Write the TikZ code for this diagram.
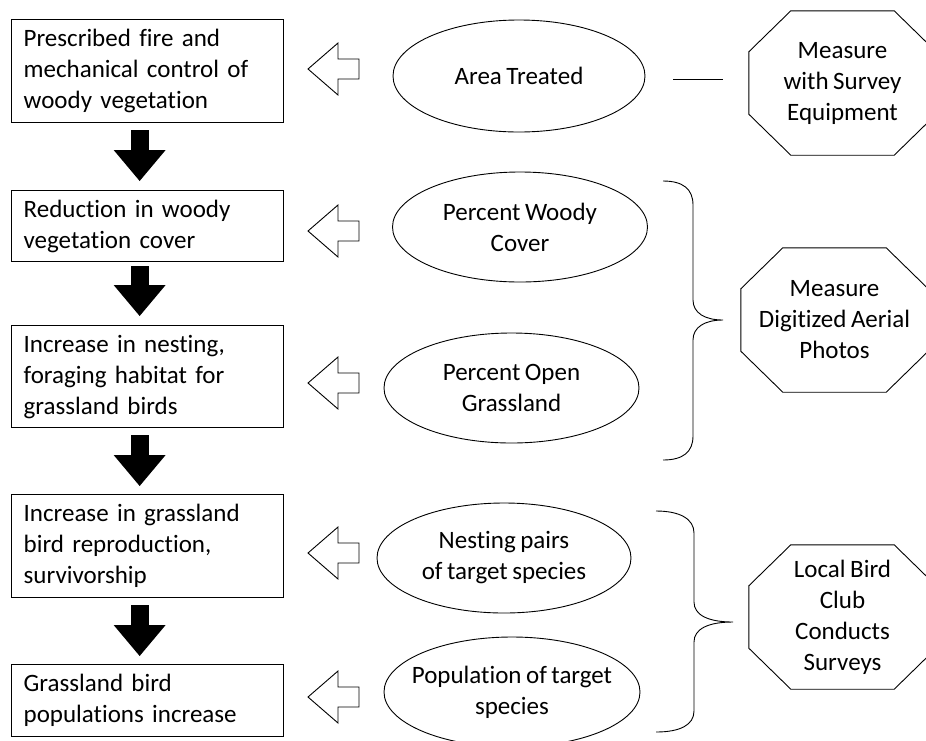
\documentclass[tikz,border=0pt]{standalone}
\usepackage{fontspec}
\setmainfont{Carlito}[Ligatures=NoCommon, WordSpace=0.8]
\usetikzlibrary{arrows.meta}

% chamfered outline drawn around a rectangular node
\newcommand\octagonround[1]{%
  \draw[octline] ([xshift=42pt]#1.north west) -- ([xshift=-42pt]#1.north east)
    -- ([yshift=-41pt]#1.north east) -- ([yshift=41pt]#1.south east)
    -- ([xshift=-42pt]#1.south east) -- ([xshift=42pt]#1.south west)
    -- ([yshift=41pt]#1.south west) -- ([yshift=-41pt]#1.north west) -- cycle;}

\begin{document}
\begin{tikzpicture}[x=1pt,y=-1pt,
  every node/.style={font=\fontsize{25}{31}\selectfont, inner sep=0pt},
  box/.style={draw, line width=1.3pt, anchor=north west, text width=248pt,
    inner xsep=12pt, align=left, minimum width=272pt},
  etext/.style={align=center},
  ellline/.style={line width=0.9pt},
  octbox/.style={minimum width=187pt, minimum height=144pt, align=center},
  octline/.style={line width=0.9pt},
  braceline/.style={line width=0.9pt},
  blockarrow/.style={line width=18pt,
    -{Triangle[length=31pt, width=52pt, line width=0pt]}},
  hollow/.pic={\draw[line width=0.9pt, line join=miter]
    (0,0) -- (30,-26) -- (30,-10) -- (51,-10) -- (51,10) -- (30,10) -- (30,26) -- cycle;}
]
\useasboundingbox (0,0) rectangle (926,740);

% chain of outcomes
\node[box, minimum height=103pt] (b1) at (11,19)
  {Prescribed fire and\\mechanical control of\\woody vegetation};
\node[box, minimum height=71pt] (b2) at (11,190)
  {Reduction in woody\\vegetation cover};
\node[box, minimum height=102pt] (b3) at (11,325)
  {Increase in nesting,\\foraging habitat for\\grassland birds};
\node[box, minimum height=103pt] (b4) at (11,494)
  {Increase in grassland\\bird reproduction,\\survivorship};
\node[box, minimum height=72pt] (b5) at (11,664)
  {Grassland bird\\populations increase};

\draw[blockarrow] ([xshift=-8pt,yshift=-7pt]b1.south) -- ([xshift=-8pt,yshift=9pt]b2.north);
\draw[blockarrow] ([xshift=-8pt,yshift=-4pt]b2.south) -- ([xshift=-8pt,yshift=9pt]b3.north);
\draw[blockarrow] ([xshift=-8pt,yshift=-7pt]b3.south) -- ([xshift=-8pt,yshift=8pt]b4.north);
\draw[blockarrow] ([xshift=-8pt,yshift=-7pt]b4.south) -- ([xshift=-8pt,yshift=8pt]b5.north);

% indicators
\node[etext] (e1) at (519,76) {Area Treated};
\draw[ellline] (e1.center) ellipse [x radius=126, y radius=56];
\node[etext] (e2) at (520,227) {Percent Woody\\Cover};
\draw[ellline] (e2.center) ellipse [x radius=127.5, y radius=55];
\node[etext] (e3) at (511.5,388) {Percent Open\\Grassland};
\draw[ellline] (e3.center) ellipse [x radius=127.5, y radius=55];
\node[etext] (e4) at (504,558) {Nesting pairs\\of target species};
\draw[ellline] (e4.center) ellipse [x radius=127, y radius=55];
\node[etext] (e5) at (512,692) {Population of target\\species};
\draw[ellline] (e5.center) ellipse [x radius=128, y radius=55];

\pic at (308,69) {hollow};
\pic at (308,231) {hollow};
\pic at (308,383) {hollow};
\pic at (308,553) {hollow};
\pic at (308,697) {hollow};

% measurement methods
\node[octbox] (o1) at (842.5,83) {Measure\\with Survey\\Equipment};
\octagonround{o1}
\node[octbox] (o2) at (834.5,320) {Measure\\Digitized Aerial\\Photos};
\octagonround{o2}
\node[octbox] (o3) at (842.5,617) {Local Bird\\Club\\Conducts\\Surveys};
\octagonround{o3}

\coordinate (l1) at (673,79);
\coordinate (l2) at (723,79);
\draw[line width=0.9pt] (l1) -- (l2);

% braces grouping indicators
\draw[braceline] (663,181) .. controls (683,181) and (693,189) .. (693,205)
  -- (693,300) .. controls (693,313) and (705,320) .. (723,320)
  .. controls (705,320) and (693,327) .. (693,340)
  -- (693,436) .. controls (693,452) and (683,460) .. (663,460);
\draw[braceline] (656,511) .. controls (680,511) and (694,519) .. (694,533)
  -- (694,602) .. controls (694,615) and (708,622) .. (733,622)
  .. controls (708,622) and (694,629) .. (694,642)
  -- (694,711) .. controls (694,725) and (680,732) .. (656,732);
\end{tikzpicture}
\end{document}
